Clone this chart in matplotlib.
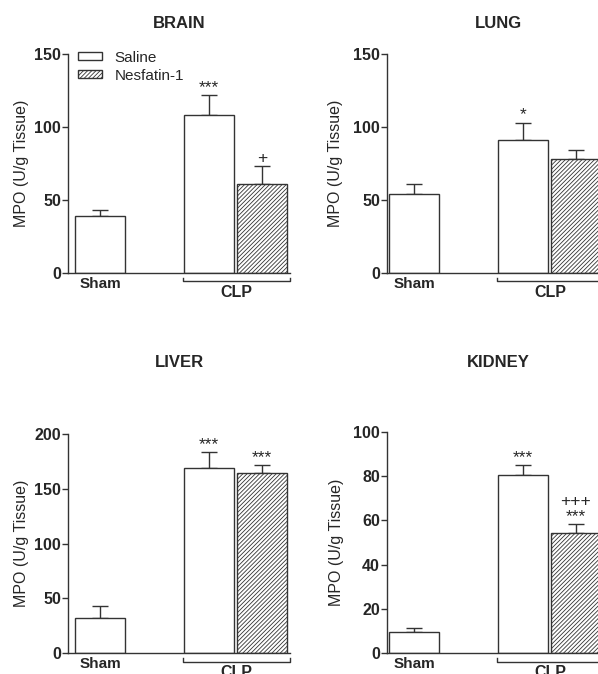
import matplotlib
matplotlib.use("Agg")
from matplotlib import pyplot as plt
from matplotlib.patches import Patch

plt.rcParams['font.family'] = ['Liberation Sans', 'DejaVu Sans']
plt.rcParams['hatch.linewidth'] = 0.6

#####
#
# MPO activity per organ
#
#####

organs = ["BRAIN", "LUNG", "LIVER", "KIDNEY"]
sham = [39, 54, 32, 9.5]
sham_err = [4, 7, 10.7, 1.9]
saline = [108.5, 91, 169, 80.6]
saline_err = [13.5, 12, 14.6, 4.2]
nesfatin = [61, 78, 164, 54.3]
nesfatin_err = [12, 6, 8, 4.2]
y_max = [150, 150, 200, 100]
y_step = [50, 50, 50, 20]
saline_marks = ["***", "*", "***", "***"]
nesfatin_marks = ["+", "", "***", "+++\n***"]
group_labels = ["Sham", "CLP"]
legend_labels = ["Saline", "Nesfatin-1"]

W, H = 598, 674
DARK = "#262626"
EDGE = "#333333"
HATCH = "////////"

# axes boxes in pixels: left, top, width, height
boxes = [(68, 54, 222, 219), (387, 54, 222, 219),
         (68, 434, 222, 219.3), (387, 431.7, 222, 221.6)]
label_pads = [4, 7, 4, 7]
title_pads = [18.5, 18.5, 48, 46.5]
x_left = [-0.64, -0.54, -0.64, -0.54]

positions = [0, 2.18, 3.24]

fig = plt.figure(figsize=(W / 100, H / 100), dpi=100)

for i, organ in enumerate(organs):
    l, t, w, h = boxes[i]
    ax = fig.add_axes([l / W, (H - t - h) / H, w / W, h / H])

    vals = [sham[i], saline[i], nesfatin[i]]
    errs = [sham_err[i], saline_err[i], nesfatin_err[i]]
    hatches = ["", "", HATCH]
    for p, v, hat in zip(positions, vals, hatches):
        ax.bar(p, v, width=1.0, facecolor="white", edgecolor=EDGE,
               linewidth=1.0, hatch=hat, zorder=2)
    ax.errorbar(positions, vals, yerr=[[0, 0, 0], errs], fmt="none",
                ecolor=EDGE, elinewidth=1.0, capsize=5.5, capthick=1.0, zorder=1)

    marks = ["", saline_marks[i], nesfatin_marks[i]]
    for p, v, e, m in zip(positions, vals, errs, marks):
        if m:
            ax.annotate(m, xy=(p, v + e), xytext=(0, 0), textcoords="offset pixels",
                        ha="center", va="bottom", fontsize=12.5, color=DARK,
                        linespacing=0.95, annotation_clip=False)

    ax.set_ylim(0, y_max[i])
    ax.set_xlim(x_left[i], x_left[i] + 222 / 50)
    ax.set_yticks(range(0, y_max[i] + 1, y_step[i]))
    ax.set_xticks([])
    for s in ["top", "right"]:
        ax.spines[s].set_visible(False)
    for s in ["left", "bottom"]:
        ax.spines[s].set_color(EDGE)
        ax.spines[s].set_linewidth(1.0)
    ax.tick_params(axis="y", length=4, width=1.0, color=EDGE, pad=1,
                   labelsize=11.5, labelcolor=DARK)
    for lab in ax.get_yticklabels():
        lab.set_fontweight("bold")
    ax.set_ylabel("MPO (U/g Tissue)", fontsize=11.5, color=DARK, labelpad=label_pads[i])
    ax.set_title(organ, fontsize=12, fontweight="bold", color=DARK, pad=title_pads[i])

    # group labels under the axis
    ax.annotate(group_labels[0], xy=(positions[0], 0), xycoords=("data", "axes fraction"),
                xytext=(0, -11), textcoords="offset pixels", ha="center", va="center",
                fontsize=11, fontweight="bold", color=DARK, annotation_clip=False)
    br_l = positions[1] - 0.52
    br_r = positions[2] + 0.56
    trans = ax.get_xaxis_transform()
    ax.plot([br_l, br_l, br_r, br_r], [-0.022, -0.038, -0.038, -0.022],
            transform=trans, color=EDGE, lw=1.0, clip_on=False)
    ax.annotate(group_labels[1], xy=((br_l + br_r) / 2, 0), xycoords=("data", "axes fraction"),
                xytext=(0, -19), textcoords="offset pixels", ha="center", va="center",
                fontsize=11.5, fontweight="bold", color=DARK, annotation_clip=False)

    if i == 0:
        handles = [Patch(facecolor="white", edgecolor=EDGE, linewidth=1.0),
                   Patch(facecolor="white", edgecolor=EDGE, linewidth=1.0, hatch=HATCH)]
        leg = ax.legend(handles, legend_labels, loc="upper left", bbox_to_anchor=(0.045, 1.015),
                        frameon=False, fontsize=11, handlelength=1.6, handleheight=0.45,
                        handletextpad=0.8, labelspacing=0.25, borderpad=0, borderaxespad=0)
        for txt in leg.get_texts():
            txt.set_color(DARK)

fig.savefig("out.png", dpi=100, facecolor="white")
